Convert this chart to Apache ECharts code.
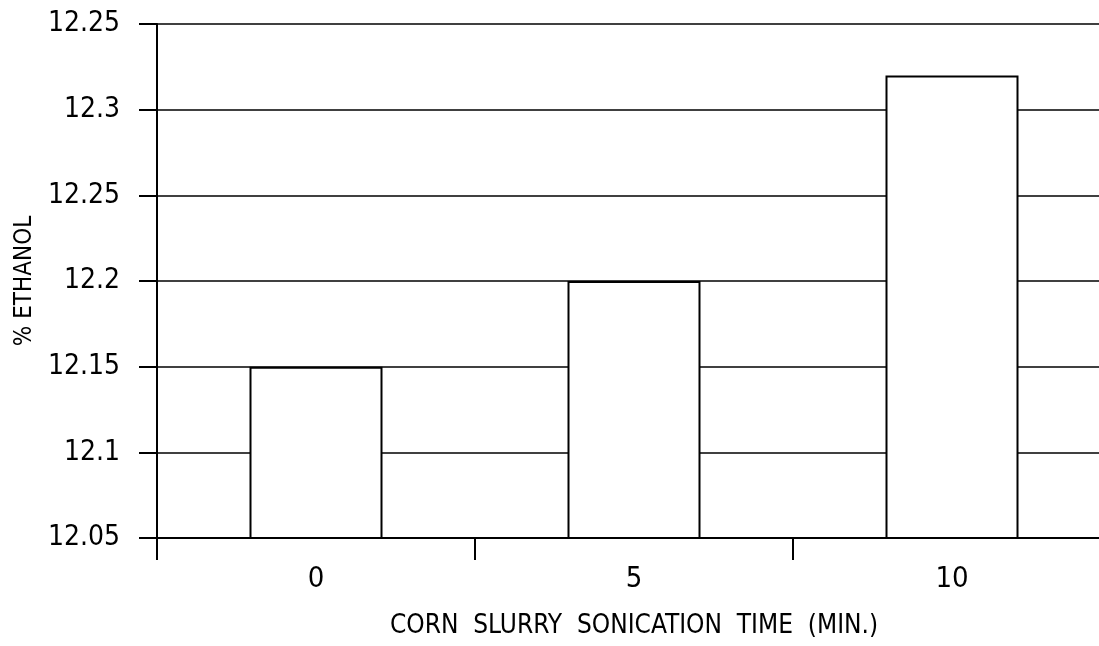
<!DOCTYPE html>
<html>
<head>
<meta charset="utf-8">
<script src="https://cdn.jsdelivr.net/npm/echarts@6/dist/echarts.min.js"></script>
<style>html,body{margin:0;padding:0;background:#fff}#c{width:1099px;height:646px}</style>
</head>
<body>
<div id="c"></div>
<script>
const categories = ['0', '5', '10'];
const ethanolValues = [12.15, 12.2, 12.32];
const yTickLabels = ['12.05', '12.1', '12.15', '12.2', '12.25', '12.3', '12.25'];
const xTitle = 'CORN  SLURRY  SONICATION  TIME  (MIN.)';
const yTitle = '% ETHANOL';

const FONT = '"Liberation Sans Narrow", "DejaVu Sans Condensed", "Liberation Sans", sans-serif';
const chart = echarts.init(document.getElementById('c'));
chart.setOption({
  backgroundColor: '#fff',
  animation: false,
  grid: { left: 157, top: 24, width: 954, height: 514, containLabel: false, outerBoundsMode: 'none' },
  xAxis: {
    type: 'category',
    data: categories,
    boundaryGap: true,
    axisLine: { show: true, lineStyle: { color: '#000', width: 2 } },
    axisTick: { show: true, inside: false, length: 22, alignWithLabel: false, lineStyle: { color: '#000', width: 2 } },
    axisLabel: { color: '#000', fontFamily: FONT, fontSize: 29, margin: 27 },
    splitLine: { show: false },
    name: xTitle,
    nameLocation: 'middle',
    nameGap: 75,
    nameTextStyle: { color: '#000', fontFamily: FONT, fontSize: 26 }
  },
  yAxis: {
    type: 'value',
    min: 12.05,
    max: 12.35,
    interval: 0.05,
    axisLine: { show: true, lineStyle: { color: '#000', width: 2 } },
    axisTick: { show: true, inside: false, length: 18, lineStyle: { color: '#000', width: 2 } },
    axisLabel: {
      color: '#000', fontFamily: FONT, fontSize: 28, margin: 37,
      formatter: function (v, i) { return yTickLabels[i] !== undefined ? yTickLabels[i] : ''; }
    },
    splitLine: { show: true, lineStyle: { color: '#000', width: 1.5 } },
    name: yTitle,
    nameLocation: 'middle',
    nameGap: 120,
    nameRotate: 90,
    nameTextStyle: { color: '#000', fontFamily: FONT, fontSize: 24 }
  },
  series: [{
    type: 'bar',
    data: ethanolValues,
    barWidth: 133,
    itemStyle: { color: '#fff', borderColor: '#000', borderWidth: 2 },
    emphasis: { disabled: true },
    z: 3
  }]
});
</script>
</body>
</html>
